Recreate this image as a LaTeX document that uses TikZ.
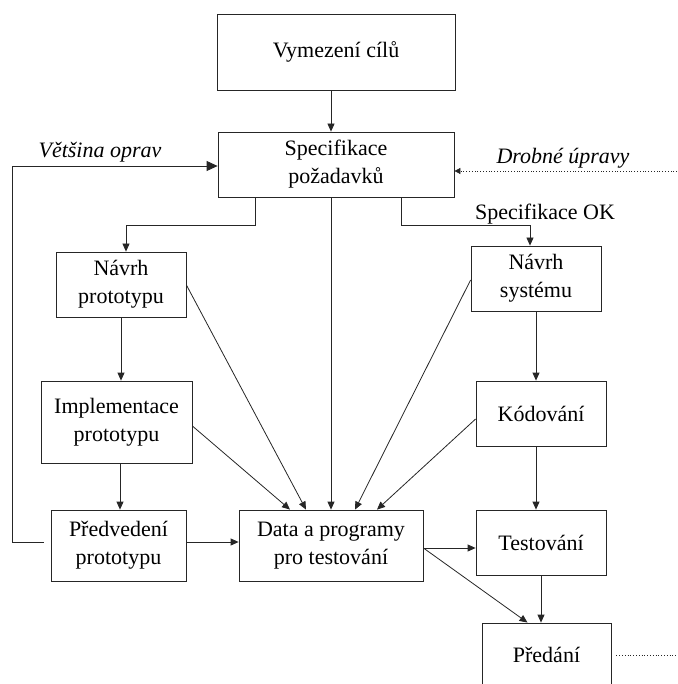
\documentclass[tikz,border=0pt]{standalone}
\usepackage{fontspec}
\setmainfont{Liberation Serif}
\usetikzlibrary{arrows.meta}

\tikzset{
  box/.style={draw=black!85, line width=0.8pt, rectangle, align=center,
              inner sep=0pt, font=\fontsize{22}{28}\selectfont},
  arr/.style={draw=black!85, line width=0.8pt, -{Triangle[length=8pt,width=7pt]}},
  bigarr/.style={draw=black!85, line width=0.8pt, -{Triangle[length=11pt,width=10pt]}},
  link/.style={draw=black!85, line width=0.8pt},
  dots/.style={draw=black!85, line width=0.8pt, dotted},
  lbl/.style={font=\fontsize{22}{28}\selectfont, inner sep=0pt},
  ilbl/.style={font=\fontsize{22}{28}\selectfont\itshape, inner sep=0pt}
}

\begin{document}
\begin{tikzpicture}[x=1pt, y=-1pt]
  \useasboundingbox (0,0) rectangle (677,684);
  \clip (0,0) rectangle (677,684);

  % boxes
  \node[box, minimum width=238, minimum height=76] (vym)   at (336,52)    {Vymezení cílů};
  \node[box, minimum width=236, minimum height=65] (spec)  at (336,164.5) {Specifikace\\požadavků};
  \node[box, minimum width=130, minimum height=65] (navp)  at (121,284.5) {Návrh\\prototypu};
  \node[box, minimum width=151, minimum height=82] (impl)  at (116.5,422) {Implementace\\prototypu};
  \node[box, minimum width=135, minimum height=71] (pred)  at (118.5,545.5) {Předvedení\\prototypu};
  \node[box, minimum width=184, minimum height=71] (data)  at (331,545.5) {Data a programy\\pro testování};
  \node[box, minimum width=130, minimum height=65] (navs)  at (536,278.5) {Návrh\\systému};
  \node[box, minimum width=130, minimum height=65] (kod)   at (541,413.5) {Kódování};
  \node[box, minimum width=130, minimum height=65] (test)  at (541,542.5) {Testování};
  \node[box, minimum width=129, minimum height=64] (preda) at (546.5,655) {Předání};

  % free ends of the dotted lines
  \coordinate (drin)  at (677,171);
  \coordinate (drout) at (677,655);

  % labels
  \node[ilbl] (lvo) at (100,152) {Většina oprav};
  \node[ilbl] (ldu) at (563,158) {Drobné úpravy};
  \node[lbl]  (lok) at (545,214) {Specifikace OK};

  % main flow
  \draw[arr] (vym.south -| data.north) -- (spec.north -| data.north);
  \draw[arr] (spec.south -| data.north) -- (data.north);
  \draw[arr] ([xshift=38]spec.south west) -- ++(0,28) -| ([xshift=5]navp.north);
  \draw[arr] ([xshift=-53]spec.south east) -- ++(0,28) -| ([xshift=-6]navs.north);

  % prototype branch
  \draw[arr] (navp.south) -- (navp.south |- impl.north);
  \draw[arr] ([xshift=3.5]impl.south) -- ([xshift=3.5]impl.south |- pred.north);
  \draw[arr] ([yshift=3.5]pred.east) -- ([yshift=3.5]pred.east -| data.west);
  \draw[bigarr] ([xshift=-7,yshift=3.5]pred.west) -- ++(-31,0) |- ([yshift=-1.5]spec.west);

  % system branch
  \draw[arr] (navs.south) -- (navs.south |- kod.north);
  \draw[arr] ([xshift=-5]kod.south) -- ([xshift=-5]kod.south |- test.north);
  \draw[arr] (test.south) -- (test.south |- preda.north);

  % inputs to test data
  \draw[arr] ([yshift=-4]impl.east) -- ([xshift=-41]data.north);
  \draw[arr] ([yshift=-0.5]navp.east) -- ([xshift=-25]data.north);
  \draw[arr] ([yshift=-1.5]navs.west) -- ([xshift=24]data.north);
  \draw[arr] ([yshift=-5.5]kod.west) -- ([xshift=46]data.north);

  % outputs of test data
  \draw[arr] ([yshift=-2.5]data.east) -- ([yshift=-2.5]data.east -| test.west);
  \draw[arr] ([yshift=-2.5]data.east) -- ([xshift=-19]preda.north);

  % dotted links
  \draw[dots, -{Triangle[length=6pt,width=6pt]}] (drin) -- (drin -| spec.east);
  \draw[dots] ([xshift=5]preda.east) -- (drout);
\end{tikzpicture}
\end{document}
